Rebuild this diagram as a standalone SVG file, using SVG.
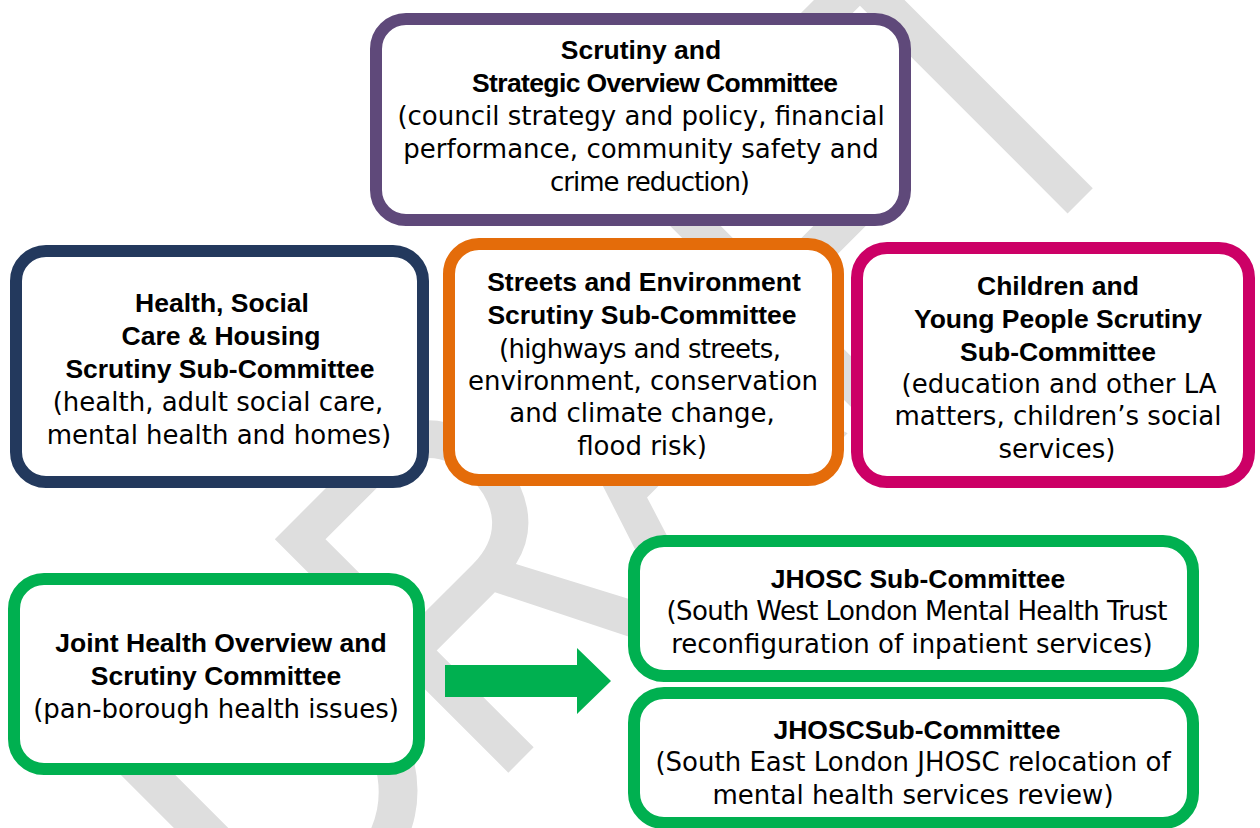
<svg xmlns="http://www.w3.org/2000/svg" width="1260" height="828" viewBox="0 0 1260 828">
<style>
.box{fill:#fff;stroke-width:12}
.b{font-family:"Liberation Sans",Arial,sans-serif;font-weight:bold;font-size:26.5px;fill:#000;text-anchor:middle}
.r{font-family:"DejaVu Sans",sans-serif;font-size:26px;fill:#000;text-anchor:middle}
.wm{font-family:"Liberation Sans",Arial,sans-serif;font-size:480px;fill:#dedede}
</style>
<rect width="1260" height="828" fill="#fff"/>
<g id="watermark" class="wm" transform="translate(520,761) rotate(-45)">
<text transform="translate(-326,-15) scale(0.86,1)">D</text>
<text transform="translate(-48,0) scale(0.8,1)">R</text>
<text transform="translate(208,0) scale(0.8,1)">A</text>
<text transform="translate(453,0) scale(0.8,1)">F</text>
<text transform="translate(675,0) scale(0.8,1)">T</text>
</g>
<g id="connectors">
<polygon id="arrow-joint-to-jhosc" points="445,665 577,665 577,648 611,681 577,714 577,697 445,697" fill="#00b050"/>
</g>
<g id="scrutiny-strategic">
<rect class="box" x="376" y="19" width="529" height="201" rx="30" stroke="#5f497a"/>
<text class="b" x="641" y="59">Scrutiny and</text>
<text class="b" x="655" y="92" textLength="366">Strategic Overview Committee</text>
<text class="r" x="641" y="125">(council strategy and policy, financial</text>
<text class="r" x="641" y="158">performance, community safety and</text>
<text class="r" x="650" y="191" textLength="200">crime reduction)</text>
</g>
<g id="health-social-care">
<rect class="box" x="16" y="251" width="407" height="231" rx="30" stroke="#23395d"/>
<text class="b" x="222" y="312">Health, Social</text>
<text class="b" x="221" y="345">Care &amp; Housing</text>
<text class="b" x="220" y="378">Scrutiny Sub-Committee</text>
<text class="r" x="218" y="411">(health, adult social care,</text>
<text class="r" x="219" y="444">mental health and homes)</text>
</g>
<g id="streets-environment">
<rect class="box" x="449" y="244" width="389" height="236" rx="30" stroke="#e46c0a"/>
<text class="b" x="644" y="291">Streets and Environment</text>
<text class="b" x="642" y="324">Scrutiny Sub-Committee</text>
<text class="r" x="640" y="358" textLength="282">(highways and streets,</text>
<text class="r" x="643" y="390">environment, conservation</text>
<text class="r" x="642" y="422">and climate change,</text>
<text class="r" x="642" y="455">flood risk)</text>
</g>
<g id="children-young-people">
<rect class="box" x="857" y="248" width="392" height="234" rx="30" stroke="#cc0066"/>
<text class="b" x="1058" y="295">Children and</text>
<text class="b" x="1058" y="328">Young People Scrutiny</text>
<text class="b" x="1058" y="361">Sub-Committee</text>
<text class="r" x="1059" y="393">(education and other LA</text>
<text class="r" x="1058" y="425">matters, children’s social</text>
<text class="r" x="1057" y="458">services)</text>
</g>
<g id="joint-health">
<rect class="box" x="14" y="579" width="405" height="190" rx="30" stroke="#00b050"/>
<text class="b" x="221" y="652">Joint Health Overview and</text>
<text class="b" x="216" y="685">Scrutiny Committee</text>
<text class="r" x="216" y="718">(pan-borough health issues)</text>
</g>
<g id="jhosc-south-west">
<rect class="box" x="634" y="541" width="559" height="135" rx="30" stroke="#00b050"/>
<text class="b" x="918" y="588">JHOSC Sub-Committee</text>
<text class="r" x="917" y="620" textLength="501">(South West London Mental Health Trust</text>
<text class="r" x="912" y="653">reconfiguration of inpatient services)</text>
</g>
<g id="jhosc-south-east">
<rect class="box" x="634" y="693" width="559" height="130" rx="30" stroke="#00b050"/>
<text class="b" x="917" y="739">JHOSCSub-Committee</text>
<text class="r" x="913" y="771">(South East London JHOSC relocation of</text>
<text class="r" x="913" y="804">mental health services review)</text>
</g>
</svg>
